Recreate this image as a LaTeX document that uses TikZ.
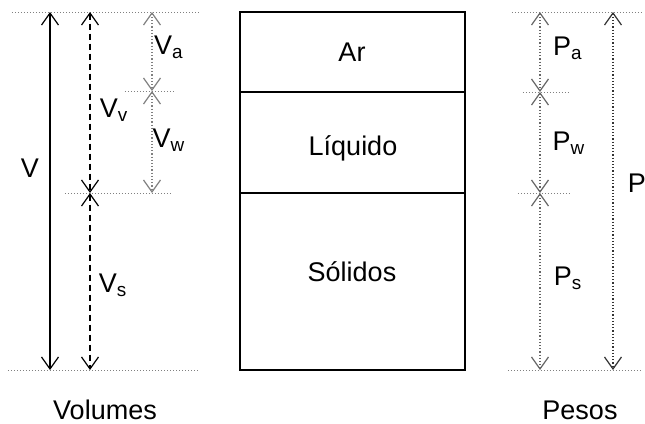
\documentclass[tikz,border=0pt]{standalone}
\usepackage{fontspec}
\setmainfont{Liberation Sans}
\usetikzlibrary{arrows.meta}

\begin{document}
\begin{tikzpicture}[x=0.5pt,y=-0.5pt,
  every node/.style={font=\fontsize{13.5}{16}\selectfont, inner sep=1pt},
  dim/.style={{Straight Barb[length=6pt,width=8.5pt]}-{Straight Barb[length=6pt,width=8.5pt]}, line width=0.6pt},
  guide/.style={gray, densely dotted, line width=0.5pt},
  part/.style={draw, line width=1.4pt, minimum width=112.5pt, inner sep=0pt, outer sep=0pt, anchor=north}]
\useasboundingbox (0,0) rectangle (645,424);

% the sample
\node[part, minimum height=40pt] (ar) at (352.5,12) {};
\node[part, minimum height=50.5pt] (liq) at (ar.south) {};
\node[part, minimum height=88.5pt] (sol) at (liq.south) {};
\node (tar) at (352,52) {Ar};
\node (tliq) at (353,148) {Líquido};
\node (tsol) at (352,272) {Sólidos};

% level lines
\draw[guide] (12,12) -- (200,12);
\draw[guide] (125,91) -- (175,91);
\draw[guide] (65,193) -- (172,193);
\draw[guide] (8,370) -- (200,370);
\draw[guide] (512,12) -- (643,12);
\draw[guide] (523,92) -- (570,92);
\draw[guide] (518,193) -- (572,193);
\draw[guide] (508,370) -- (643,370);

% volumes
\foreach \n/\x/\y in {v1/50/12, v2/50/370, vv1/90/12, vv2/90/193, vs2/90/370,
  va1/152/12, va2/152/91, vw2/152/193}
  \coordinate (\n) at (\x,\y);
\draw[dim] (v1) -- (v2);
\draw[dim, densely dashed] (vv1) -- (vv2);
\draw[dim, densely dashed] (vv2) -- (vs2);
\draw[dim, gray, densely dotted] (va1) -- (va2);
\draw[dim, gray, densely dotted] (va2) -- (vw2);
\node (lv) at (30,168) {V};
\node (lvv) at (114,110) {V\textsubscript{v}};
\node (lva) at (169,47) {V\textsubscript{a}};
\node (lvw) at (169,140) {V\textsubscript{w}};
\node (lvs) at (113,285) {V\textsubscript{s}};

% weights
\foreach \n/\x/\y in {pa1/540/12, pa2/540/92, pw2/540/193, ps2/540/370,
  p1/613/12, p2/613/370}
  \coordinate (\n) at (\x,\y);
\draw[dim, black!60, densely dotted] (pa1) -- (pa2);
\draw[dim, black!60, densely dotted] (pa2) -- (pw2);
\draw[dim, black!60, densely dotted] (pw2) -- (ps2);
\draw[dim, black!80, densely dotted] (p1) -- (p2);
\node (lpa) at (568,48) {P\textsubscript{a}};
\node (lpw) at (569,143) {P\textsubscript{w}};
\node (lps) at (568,278) {P\textsubscript{s}};
\node (lp) at (637,183) {P};

\node (volumes) at (105,410) {Volumes};
\node (pesos) at (580,410) {Pesos};
\end{tikzpicture}
\end{document}
